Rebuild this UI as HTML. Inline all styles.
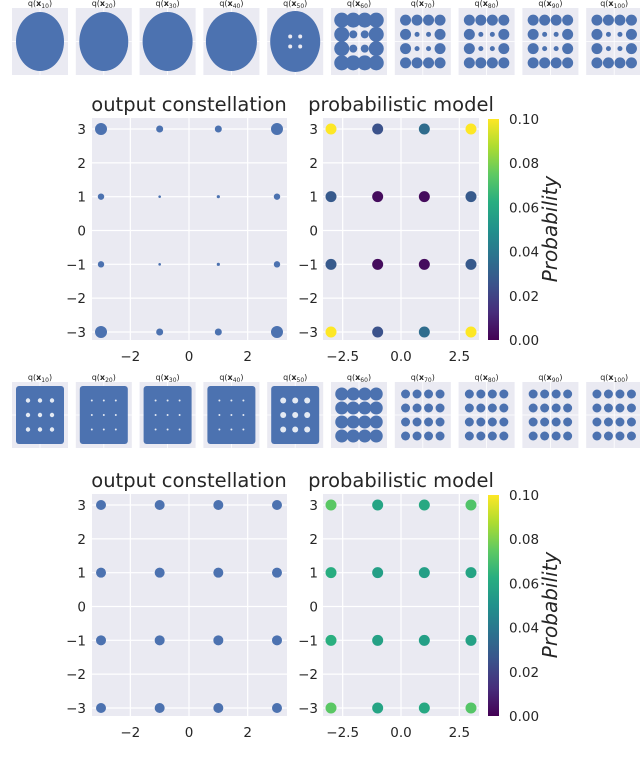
<!DOCTYPE html>
<html><head><meta charset="utf-8">
<style>
html,body{margin:0;padding:0;background:#fff;width:640px;height:768px;overflow:hidden}
svg{display:block;font-family:"DejaVu Sans","Liberation Sans",sans-serif}
</style></head>
<body>
<svg id="fig" width="640" height="768" viewBox="0 0 640 768" xmlns="http://www.w3.org/2000/svg">
<defs>
<linearGradient id="viridis" x1="0" y1="1" x2="0" y2="0">
<stop offset="0" stop-color="#440154"/><stop offset="0.125" stop-color="#472d7b"/>
<stop offset="0.25" stop-color="#3b528b"/><stop offset="0.375" stop-color="#2c728e"/>
<stop offset="0.5" stop-color="#21918c"/><stop offset="0.625" stop-color="#28ae80"/>
<stop offset="0.75" stop-color="#5ec962"/><stop offset="0.875" stop-color="#addc30"/>
<stop offset="1" stop-color="#fde725"/>
</linearGradient>
</defs>
</svg>
<script>
// ---- data ----
const gridX = [-3,-1,1,3];
const gridY = [3,1,-1,-3];
const topSizes = [6,3.5,3.5,6, 3.2,1.3,1.6,3.2, 3.2,1.3,1.6,3.2, 6,3.5,3.5,6];
const topProbs = [0.100,0.025,0.035,0.100, 0.028,0.003,0.003,0.028, 0.028,0.003,0.003,0.028, 0.100,0.025,0.035,0.100];
const botSizes = [5,5,5,5, 5,5,5,5, 5,5,5,5, 5,5,5,5];
const botProbs = [0.074,0.058,0.060,0.072, 0.062,0.056,0.056,0.058, 0.063,0.057,0.056,0.057, 0.074,0.058,0.060,0.073];
const yTicks = [3,2,1,0,-1,-2,-3];
const xTicksA = [-2,0,2];
const xTicksB = [-2.5,0,2.5];
const cbTicks = [0,0.02,0.04,0.06,0.08,0.10];
const thumbLabels = ["10","20","30","40","50","60","70","80","90","100"];

const NS="http://www.w3.org/2000/svg";
const svg=document.getElementById('fig');
function mk(tag,attrs,parent){const e=document.createElementNS(NS,tag);for(const k in attrs)e.setAttribute(k,attrs[k]);(parent||svg).appendChild(e);return e;}
const stops=[[0,[68,1,84]],[0.125,[71,45,123]],[0.25,[59,82,139]],[0.375,[44,114,142]],[0.5,[33,145,140]],[0.625,[40,174,128]],[0.75,[94,201,98]],[0.875,[173,220,48]],[1,[253,231,37]]];
function viridis(t){t=Math.max(0,Math.min(1,t));for(let i=1;i<stops.length;i++){if(t<=stops[i][0]){const a=stops[i-1],b=stops[i];const f=(t-a[0])/(b[0]-a[0]);const c=a[1].map((v,j)=>Math.round(v+(b[1][j]-v)*f));return `rgb(${c})`;}}return 'rgb(253,231,37)';}
const TF='"DejaVu Sans","Liberation Sans",sans-serif';

function drawMain(dy,sizes,probs,tag){
  const A={x0:92,x1:287,y0:118+dy,y1:340+dy};
  const sxA=v=>189+v*29.33, sy=v=>230.5+dy-v*33.83;
  const gA=mk('g',{});
  mk('rect',{x:A.x0,y:A.y0,width:A.x1-A.x0,height:A.y1-A.y0,fill:'#eaeaf2'},gA);
  yTicks.forEach(v=>{mk('line',{x1:A.x0,x2:A.x1,y1:sy(v),y2:sy(v),stroke:'#fff','stroke-width':1.2},gA);
    const t=mk('text',{x:86,y:sy(v)+5,'text-anchor':'end','font-size':13.5,fill:'#262626'},gA);t.textContent=v<0?'\u2212'+(-v):v;});
  xTicksA.forEach(v=>{mk('line',{x1:sxA(v),x2:sxA(v),y1:A.y0,y2:A.y1,stroke:'#fff','stroke-width':1.2},gA);
    const t=mk('text',{x:sxA(v),y:A.y1+21,'text-anchor':'middle','font-size':13.5,fill:'#262626'},gA);t.textContent=v<0?'\u2212'+(-v):v;});
  let i=0;gridY.forEach(yv=>gridX.forEach(xv=>{const c=mk('circle',{cx:sxA(xv),cy:sy(yv),r:sizes[i],fill:'#4c72b0'},gA);i++;}));
  const tA=mk('text',{x:189,y:A.y0-7,'text-anchor':'middle','font-size':19.5,fill:'#262626'},gA);tA.textContent='output constellation';
  const B={x0:323,x1:479};
  const sxB=v=>401+v*23.33;
  const gB=mk('g',{});
  mk('rect',{x:B.x0,y:A.y0,width:B.x1-B.x0,height:A.y1-A.y0,fill:'#eaeaf2'},gB);
  yTicks.forEach(v=>{mk('line',{x1:B.x0,x2:B.x1,y1:sy(v),y2:sy(v),stroke:'#fff','stroke-width':1.2},gB);
    const t=mk('text',{x:318,y:sy(v)+5,'text-anchor':'end','font-size':13.5,fill:'#262626'},gB);t.textContent=v<0?'\u2212'+(-v):v;});
  xTicksB.forEach(v=>{mk('line',{x1:sxB(v),x2:sxB(v),y1:A.y0,y2:A.y1,stroke:'#fff','stroke-width':1.2},gB);
    const t=mk('text',{x:sxB(v),y:A.y1+21,'text-anchor':'middle','font-size':13.5,fill:'#262626'},gB);t.textContent=v<0?'\u2212'+(-v).toFixed(1):v.toFixed(1);});
  i=0;gridY.forEach(yv=>gridX.forEach(xv=>{const c=mk('circle',{cx:sxB(xv),cy:sy(yv),r:5.5,fill:viridis(probs[i]/0.1)},gB);i++;}));
  const tB=mk('text',{x:401,y:A.y0-7,'text-anchor':'middle','font-size':19.5,fill:'#262626'},gB);tB.textContent='probabilistic model';
  const cb=mk('g',{});
  mk('rect',{x:488,y:A.y0+1,width:11,height:A.y1-A.y0-1,fill:'url(#viridis)'},cb);
  const cy=v=>A.y1-(v/0.1)*(A.y1-A.y0-1);
  cbTicks.forEach(v=>{const t=mk('text',{x:509,y:cy(v)+5,'font-size':13.5,fill:'#262626'},cb);t.textContent=v.toFixed(2);});
  const lab=mk('text',{x:0,y:0,'font-size':20,'font-style':'italic',fill:'#262626','text-anchor':'middle',transform:`translate(557,${(A.y0+A.y1)/2}) rotate(-90)`},cb);lab.textContent='Probability';
}
drawMain(0,topSizes,topProbs,'top');
drawMain(376,botSizes,botProbs,'bottom');

function thumb(k,y0,row){
  const x0=12+63.8*k,w=56,h=row?66:67;
  const g=mk('g',{});
  mk('rect',{x:x0,y:y0,width:w,height:h,fill:'#eaeaf2'},g);
  mk('line',{x1:x0,x2:x0+w,y1:y0+h/2,y2:y0+h/2,stroke:'#fff','stroke-width':0.8},g);
  mk('line',{x1:x0+w/2,x2:x0+w/2,y1:y0,y2:y0+h,stroke:'#fff','stroke-width':0.8},g);
  const cx=x0+w/2,cy=y0+h/2,f='#4c72b0';
  if(row===0&&k<4){mk('ellipse',{cx,cy,rx:w/2-4+k*0.5,ry:h/2-4,fill:f},g);}
  else if(row===0&&k===4){mk('ellipse',{cx,cy,rx:w/2-3,ry:h/2-3,fill:f},g);
    [[-1,-1],[1,-1],[-1,1],[1,1]].forEach(([a,b])=>mk('circle',{cx:cx+a*5,cy:cy+b*5,r:2,fill:'#eaeaf2'},g));}
  else if(row===1&&k<5){mk('rect',{x:x0+4,y:y0+4,width:w-8,height:h-8,rx:3,fill:f},g);
    for(let a=0;a<3;a++)for(let b=0;b<3;b++)mk('circle',{cx:x0+4+(w-8)*(a+1)/4,cy:y0+4+(h-8)*(b+1)/4,r:k===4?3:(k===0?2.2:1),fill:'#fff',opacity:0.85},g);}
  else{
    for(let a=0;a<4;a++)for(let b=0;b<4;b++){const edge=(a==0||a==3||b==0||b==3);
      let r=row===0?(edge?5.5:(k===5?4:2.5)):(k===5?6.5:4.5);
      if(row===0&&k===5&&edge)r=7.5;
      mk('circle',{cx:x0+5+(w-10)*(a+0.5)/4,cy:y0+5+(h-10)*(b+0.5)/4,r,fill:f},g);}
  }
  const t=mk('text',{x:cx,y:y0-2,'text-anchor':'middle','font-size':8,fill:'#262626','font-family':TF},g);
  t.innerHTML='q(<tspan font-weight="bold">x</tspan><tspan font-size="6" dy="2">'+thumbLabels[k]+'</tspan><tspan dy="-2">)</tspan>';
  
}
for(let k=0;k<10;k++){thumb(k,8,0);thumb(k,382,1);}
</script>
</body></html>
